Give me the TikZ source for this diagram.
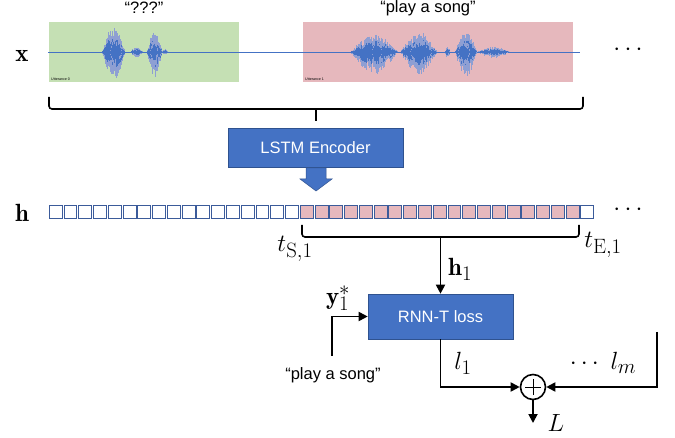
\documentclass[tikz,border=0pt]{standalone}
\usepackage{fontspec}
\newfontfamily\arialf{Liberation Sans}
\usetikzlibrary{arrows.meta}
\definecolor{boxblue}{HTML}{4472C4}
\definecolor{boxedge}{HTML}{2F528F}
\definecolor{uttgreen}{HTML}{C5E0B4}
\definecolor{uttpink}{HTML}{E6B8BD}
\definecolor{wavelightc}{HTML}{8E9FD3}
\definecolor{sqedge}{HTML}{3B5B9A}
\tikzset{
  mathlbl/.style={font=\fontsize{24.88}{28}\selectfont, inner sep=0},
  sanslbl/.style={font=\arialf\fontsize{16.5}{19}\selectfont, inner sep=0},
  bluebox/.style={draw=boxedge, line width=0.6, fill=boxblue, text=white, font=\arialf\fontsize{16.5}{19}\selectfont},
  conn/.style={line width=1.8, -{Triangle[length=9,width=9]}},
  bracel/.style={line width=1.6, rounded corners=3},
  hsq/.style={draw=sqedge, line width=0.8, minimum width=12.9, minimum height=13, inner sep=0},
  wavelight/.style={draw=wavelightc, line width=0.6},
  wavedark/.style={draw=boxblue, line width=0.7},
}
\begin{document}
\begin{tikzpicture}[x=1pt,y=-1pt]
\useasboundingbox (0,0) rectangle (675,438);
% utterance boxes
\fill[uttgreen] (49,22) rectangle (239,82);
\fill[uttpink] (303,22) rectangle (573,82);
\node[anchor=south west, inner sep=0, font=\arialf\fontsize{3.6}{4}\selectfont] at (51,80.5) {Utterance 0};
\node[anchor=south west, inner sep=0, font=\arialf\fontsize{3.6}{4}\selectfont] at (305,80.5) {Utterance 1};
% waveform
\draw[boxblue, line width=0.8] (48,52) -- (580,52);
\pgfmathsetseed{11}
\foreach \s/\e/\a in {102/125/26, 110/122/22, 130/143/5, 147/162/22, 150/158/16, 162/168/3,
                      350/398/17, 372/382/20, 400/437/18, 410/432/20, 445/450/5, 455/477/22, 458/470/17, 477/510/5}{
  \pgfmathtruncatemacro\nn{(\e-\s)*2}
  \foreach \k in {0,...,\nn}{
    \pgfmathsetmacro\xx{\s+\k*0.5}
    \pgfmathsetmacro\env{\a*sin(180/\nn*\k)}
    \pgfmathsetmacro\up{\env*(0.45+0.55*rnd)}
    \pgfmathsetmacro\dn{\env*(0.5+0.7*rnd)}
    \draw[wavelight] (\xx,52-\up) -- (\xx,52+\dn);
    \draw[wavedark] (\xx,52-0.62*\up) -- (\xx,52+0.6*\dn);
  }
}
% top labels
\node[sanslbl] (q1) at (144,8) {“???”};
\node[sanslbl] (q2) at (428,8) {“play a song”};
\node[mathlbl, anchor=base] (xl) at (22,62) {$\mathbf{x}$};
\node[mathlbl] (xdots) at (628,50) {$\cdots$};
% top brace
\draw[bracel] (49,97) -- (49,109) -- (583,109) -- (583,97);
\draw[line width=1.6] (316,109) -- (316,121);
% LSTM encoder
\node[bluebox, minimum width=175, minimum height=39, inner sep=0] (lstm) at (315.5,147.5) {LSTM Encoder};
\draw[fill=boxblue, draw=boxedge, line width=0.5] (306,168) -- (326,168) -- (326,179) -- (332,179) -- (316,191) -- (300,179) -- (306,179) -- cycle;
% h row
\node[mathlbl, anchor=base] (hl) at (22,222) {$\mathbf{h}$};
\foreach \i in {0,...,36}{
  \pgfmathsetmacro\cx{49+6.6+\i*14.77}
  \ifnum\i<17
    \node[hsq, fill=white] (sq\i) at (\cx,211.5) {};
  \else\ifnum\i<36
    \node[hsq, fill=uttpink] (sq\i) at (\cx,211.5) {};
  \else
    \node[hsq, fill=white] (sq\i) at (\cx,211.5) {};
  \fi\fi
}
\node[mathlbl] (hdots) at (628,210) {$\cdots$};
% lower brace
\draw[bracel] (302,225) -- (302,237) -- (579,237) -- (579,225);
\coordinate (btip) at (440.5,237);
\node[mathlbl, anchor=base] (ts) at (295,252) {$t_{\mathrm{S},1}$};
\node[mathlbl, anchor=base] (te) at (603,248) {$t_{\mathrm{E},1}$};
% RNN-T loss
\node[bluebox, minimum width=145, minimum height=45, inner sep=0] (rnnt) at (440.5,316.5) {RNN-T loss};
\draw[conn] (btip) -- (rnnt.north);
\node[mathlbl, anchor=west] (h1) at (448,269) {$\mathbf{h}_1$};
% y input
\node[mathlbl] (y1) at (338,298) {$\mathbf{y}_1^*$};
\coordinate (ystart) at (332,356);
\draw[conn] (ystart) |- (rnnt.west);
\node[sanslbl] (ptext) at (333,375) {“play a song”};
% sum
\node[circle, draw, line width=1.6, minimum size=25, inner sep=0] (sum) at (533,387) {};
\draw[line width=0.7] ([xshift=-8]sum.center) -- ([xshift=8]sum.center);
\draw[line width=0.7] ([yshift=-8]sum.center) -- ([yshift=8]sum.center);
\draw[conn] (rnnt.south) |- (sum.west);
\coordinate (rstart) at (657,332);
\draw[conn] (rstart) |- (sum.east);
\coordinate (lend) at (533,423);
\draw[conn] (sum.south) -- (lend);
\node[mathlbl] (l1) at (463,363) {$l_1$};
\node[mathlbl] (lm) at (603,363) {$\cdots\ l_m$};
\node[mathlbl] (Ll) at (556,423) {$L$};
\end{tikzpicture}
\end{document}
